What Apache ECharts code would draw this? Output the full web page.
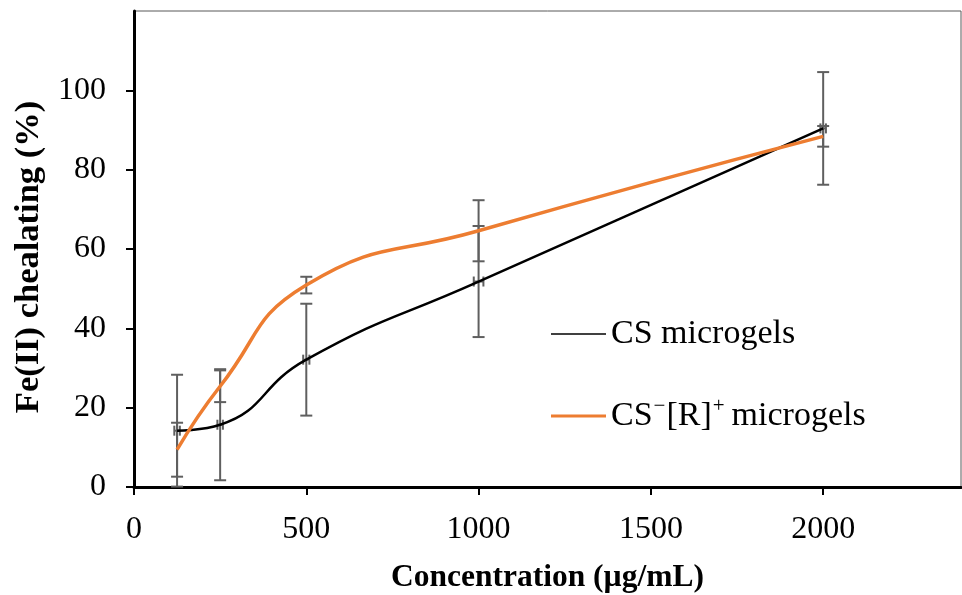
<!DOCTYPE html>
<html>
<head>
<meta charset="utf-8">
<script src="https://cdn.jsdelivr.net/npm/echarts@6/dist/echarts.min.js"></script>
<style>
  html, body { margin: 0; padding: 0; background: #fff; }
  #chart { width: 962px; height: 595px; }
</style>
</head>
<body>
<div id="chart"></div>
<script>
// concentration (µg/mL)
const concentrations = [125, 250, 500, 1000, 2000];
// CS microgels
const csMean = [14.2, 15.7, 32.1, 51.8, 90.4];
const csErr = [14.1, 14.0, 14.1, 14.0, 14.2];
const csXErr = [8, 8, 9, 14, 8];
// CS-[R]+ microgels
const rMean = [9.4, 25.4, 50.9, 64.6, 88.4];
const rErr = [6.8, 4.0, 2.1, 7.7, 2.6];
const rXErr = [0, 0, 0, 0, 0];

const xTicks = [0, 500, 1000, 1500, 2000];
const yTicks = [0, 20, 40, 60, 80, 100];

const serif = "'Liberation Serif', 'Times New Roman', serif";
const errColor = '#5f5f5f';

const chart = echarts.init(document.getElementById('chart'));

function errorBars(api) {
  const x = api.value(0), y = api.value(1), ey = api.value(2), ex = api.value(3);
  const top = api.coord([x, y + ey]);
  const bot = api.coord([x, y - ey]);
  const cw = 6;
  const style = { stroke: errColor, lineWidth: 2 };
  const children = [
    { type: 'line', shape: { x1: top[0], y1: top[1], x2: bot[0], y2: bot[1] }, style: style },
    { type: 'line', shape: { x1: top[0] - cw, y1: top[1], x2: top[0] + cw, y2: top[1] }, style: style },
    { type: 'line', shape: { x1: bot[0] - cw, y1: bot[1], x2: bot[0] + cw, y2: bot[1] }, style: style }
  ];
  if (ex > 0) {
    const l = api.coord([x - ex, y]);
    const r = api.coord([x + ex, y]);
    const ch = 5;
    children.push(
      { type: 'line', shape: { x1: l[0], y1: l[1], x2: r[0], y2: r[1] }, style: style },
      { type: 'line', shape: { x1: l[0], y1: l[1] - ch, x2: l[0], y2: l[1] + ch }, style: style },
      { type: 'line', shape: { x1: r[0], y1: r[1] - ch, x2: r[0], y2: r[1] + ch }, style: style }
    );
  }
  return { type: 'group', children: children };
}

const option = {
  backgroundColor: '#fff',
  animation: false,
  grid: {
    left: 134,
    right: 1,
    top: 11,
    bottom: 108,
    outerBoundsMode: 'none',
    containLabel: false,
    show: true,
    borderColor: '#595959',
    borderWidth: 1
  },
  legend: {
    orient: 'vertical',
    left: 546,
    top: 309,
    itemWidth: 55,
    itemHeight: 14,
    itemGap: 42,
    data: [
      { name: 'CS microgels', icon: 'path://M0,6.2 L55,6.2 L55,7.8 L0,7.8 Z', itemStyle: { color: '#000' } },
      { name: 'CS-[R]+ microgels', icon: 'path://M0,5.5 L55,5.5 L55,8.5 L0,8.5 Z', itemStyle: { color: '#ED7D31' } }
    ],
    formatter: function (name) {
      if (name === 'CS-[R]+ microgels') {
        return 'CS{sup|−}[R]{supr|+}microgels';
      }
      return name;
    },
    textStyle: {
      fontFamily: serif,
      fontSize: 34,
      color: '#000',
      lineHeight: 40,
      rich: {
        sup: { fontFamily: serif, fontSize: 21, verticalAlign: 'top', lineHeight: 40, color: '#000', padding: [0, 1, 12, 1] },
        supr: { fontFamily: serif, fontSize: 21, verticalAlign: 'top', lineHeight: 40, color: '#000', padding: [0, 7, 12, 1] }
      }
    }
  },
  xAxis: {
    type: 'value',
    min: 0,
    max: 2400,
    interval: 500,
    name: 'Concentration (µg/mL)',
    nameLocation: 'middle',
    nameGap: 75,
    nameTextStyle: { fontFamily: serif, fontSize: 31.5, fontWeight: 'bold', color: '#000' },
    splitLine: { show: false },
    axisLine: { lineStyle: { color: '#000', width: 3 } },
    axisTick: { show: true, length: 8, lineStyle: { color: '#000', width: 2 }, customValues: xTicks },
    axisLabel: {
      fontFamily: serif, fontSize: 32, color: '#000', margin: 27, customValues: xTicks,
      formatter: function (v) { return String(v); }
    }
  },
  yAxis: {
    type: 'value',
    min: 0,
    max: 120,
    interval: 20,
    name: 'Fe(II) chealating (%)',
    nameLocation: 'middle',
    nameRotate: 90,
    nameGap: 87,
    nameTextStyle: { fontFamily: serif, fontSize: 34.5, fontWeight: 'bold', color: '#000', padding: [0, 16, 0, 0] },
    splitLine: { show: false },
    axisLine: { lineStyle: { color: '#000', width: 3 } },
    axisTick: { show: true, length: 8, lineStyle: { color: '#000', width: 2 }, customValues: yTicks },
    axisLabel: { fontFamily: serif, fontSize: 32, color: '#000', margin: 28, customValues: yTicks }
  },
  series: [
    {
      name: 'CS errors',
      type: 'custom',
      renderItem: function (params, api) { return errorBars(api); },
      data: concentrations.map((c, i) => [c, csMean[i], csErr[i], csXErr[i]]),
      z: 1,
      silent: true
    },
    {
      name: 'R errors',
      type: 'custom',
      renderItem: function (params, api) { return errorBars(api); },
      data: concentrations.map((c, i) => [c, rMean[i], rErr[i], rXErr[i]]),
      z: 1,
      silent: true
    },
    {
      name: 'CS microgels',
      type: 'line',
      smooth: 0.5,
      symbol: 'none',
      lineStyle: { color: '#000', width: 2.5 },
      itemStyle: { color: '#000' },
      data: concentrations.map((c, i) => [c, csMean[i]]),
      z: 3
    },
    {
      name: 'CS-[R]+ microgels',
      type: 'line',
      smooth: 0.5,
      symbol: 'none',
      lineStyle: { color: '#ED7D31', width: 3.5 },
      itemStyle: { color: '#ED7D31' },
      data: concentrations.map((c, i) => [c, rMean[i]]),
      z: 4
    }
  ]
};

chart.setOption(option);
</script>
</body>
</html>
